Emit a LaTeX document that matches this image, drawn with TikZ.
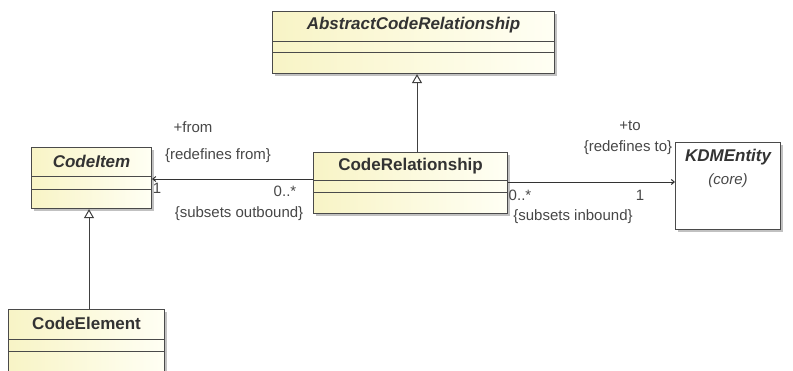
\documentclass[tikz,border=0pt]{standalone}
\usepackage{fontspec}
\setmainfont{Liberation Sans}
\usetikzlibrary{arrows.meta,shadows}
\definecolor{clsL}{HTML}{F8F4C6}
\definecolor{clsR}{HTML}{FFFFF4}
\definecolor{edgec}{HTML}{4A4A4A}
\begin{document}
\begin{tikzpicture}[x=1pt,y=-1pt,
  cls/.style={draw=edgec, line width=1.1pt, left color=clsL, right color=clsR,
    drop shadow={shadow xshift=2.5pt,shadow yshift=-2.5pt,fill=black!35,opacity=0.7},
    inner sep=0pt, anchor=north west},
  plain/.style={cls, left color=white, right color=white},
  divl/.style={draw=edgec, line width=1pt},
  nm/.style={font=\fontsize{17}{20}\selectfont\bfseries, text=black!80, inner sep=0pt},
  nmi/.style={nm, font=\fontsize{17}{20}\selectfont\bfseries\itshape},
  lbl/.style={font=\fontsize{15}{18}\selectfont, text=black!72, inner sep=0pt},
  assoc/.style={draw=black!80, line width=1pt, -{Straight Barb[length=3pt,width=5pt]}},
  gen/.style={draw=black!75, line width=1pt, -{Triangle[length=9pt,width=10pt,fill=white]}}
]
\useasboundingbox (0,0) rectangle (793,370);

% AbstractCodeRelationship
\node[cls, minimum width=282pt, minimum height=62pt] (acr) at (272,11) {};
\draw[divl] ([yshift=-30.5pt]acr.north west) -- ([yshift=-30.5pt]acr.north east);
\draw[divl] ([yshift=-41.5pt]acr.north west) -- ([yshift=-41.5pt]acr.north east);
\node[nmi] (acrn) at ([yshift=-14.5pt]acr.north) {AbstractCodeRelationship};

% CodeItem
\node[cls, minimum width=120pt, minimum height=61pt] (ci) at (31,147) {};
\draw[divl] ([yshift=-29pt]ci.north west) -- ([yshift=-29pt]ci.north east);
\draw[divl] ([yshift=-42pt]ci.north west) -- ([yshift=-42pt]ci.north east);
\node[nmi] (cin) at ([yshift=-14.5pt]ci.north) {CodeItem};

% CodeRelationship
\node[cls, minimum width=194pt, minimum height=61pt] (cr) at (313,152) {};
\draw[divl] ([yshift=-28pt]cr.north west) -- ([yshift=-28pt]cr.north east);
\draw[divl] ([yshift=-40pt]cr.north west) -- ([yshift=-40pt]cr.north east);
\node[nm] (crn) at ([yshift=-14.5pt]cr.north) {CodeRelationship};

% KDMEntity
\node[plain, minimum width=105pt, minimum height=87pt] (kdm) at (675,142) {};
\node[nmi] (kdmn) at ([yshift=-15.5pt]kdm.north) {KDMEntity};
\node[lbl, font=\fontsize{15}{18}\selectfont\itshape] (kdmc) at ([yshift=-39pt]kdm.north) {(core)};

% CodeElement
\node[cls, minimum width=156pt, minimum height=70pt] (ce) at (8,309) {};
\draw[divl] ([yshift=-30pt]ce.north west) -- ([yshift=-30pt]ce.north east);
\draw[divl] ([yshift=-42pt]ce.north west) -- ([yshift=-42pt]ce.north east);
\node[nm] (cen) at ([yshift=-14pt]ce.north) {CodeElement};

% connectors
\draw[assoc] (cr.west |- 0,179) -- (ci.east |- 0,179);
\draw[assoc] (cr.east |- 0,182) -- (kdm.west |- 0,182);
\draw[gen] (cr.north -| 417,0) -- (acr.south -| 417,0);
\draw[gen] (ce.north -| 89,0) -- (ci.south -| 89,0);

% labels
\node[lbl] (l1) at (193,127) {+from};
\node[lbl] (l2) at (218,156) {\{redefines from\}};
\node[lbl] (l3) at (157,188) {1};
\node[lbl] (l4) at (285,191) {0..*};
\node[lbl] (l5) at (239,214) {\{subsets outbound\}};
\node[lbl] (l6) at (630,126) {+to};
\node[lbl] (l7) at (628,148) {\{redefines to\}};
\node[lbl] (l8) at (520,195) {0..*};
\node[lbl] (l9) at (640,195) {1};
\node[lbl] (l10) at (573,217) {\{subsets inbound\}};
\end{tikzpicture}
\end{document}
